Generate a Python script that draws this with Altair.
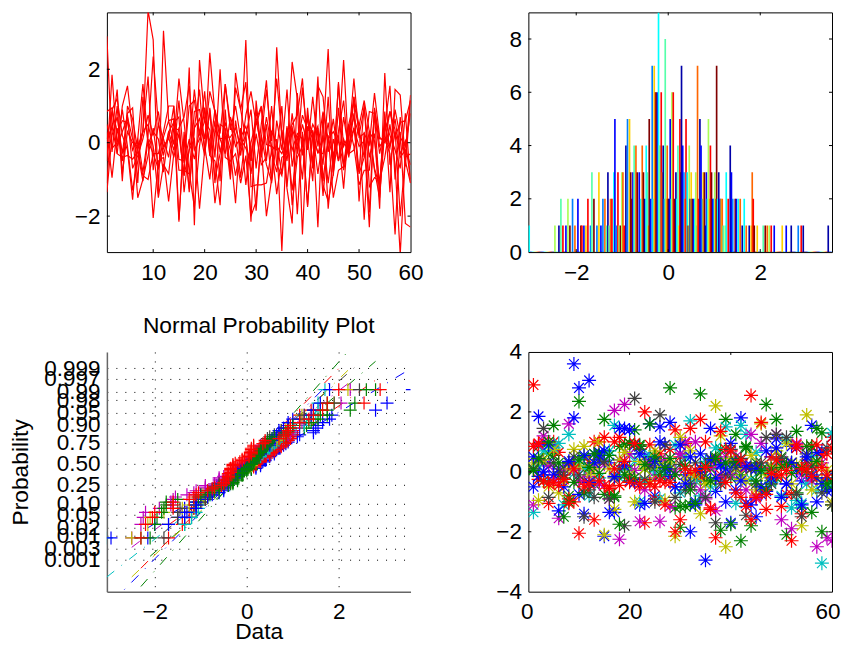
import altair as alt
import pandas as pd
from statistics import NormalDist

FONT = "Liberation Sans"
W, H = 304, 240

s0 = [-.5,1.85,-.1,.3,.7,.1,-.2,.3,3.6,2.8,-1.4,3.05,.6,.65,-2.15,.3,-1.35,.4,1.45,-.3,.9,-1.1,.5,.4,-.8,1.5,.9,1.65,-.5,.6,-.1,-2.0,-1.0,.6,-.2,1.45,-.65,.2,-1.0,.95,-.6,1.8,-1.05,.2,-1.5,-.75,-.65,.5,1.1,.35,-.4,.85,.8,-.3,.4,1.55,-1.0,.7,-.65,1.15]
s1 = [.1,.85,.3,.6,.55,-.2,.1,-.8,.2,2.35,.5,.1,-.4,.6,-.75,-.75,-.85,.85,.9,.1,1.4,.85,.1,.15,.15,.4,-.1,2.8,-1.2,-1.15,-1.15,-1.1,-.2,-.1,-.3,.1,.5,.75,1.75,-.2,1.25,-.1,.85,.1,.3,0,2.25,-.3,-.2,.5,-2.1,.3,-.7,-1.2,.85,-1.35,1.45,1.3,-.5,-1.1]
s2 = [2.9,-.25,1.0,-1.05,1.0,.65,-.2,-.9,-1.0,-.3,-.3,.3,1.0,1.0,-.45,-.5,1.0,1.15,.2,.95,-.35,-.5,-1.7,.9,-.9,.6,-.35,.75,1.4,.5,.95,-.05,-.1,-.2,1.0,-1.2,.4,-.1,.75,.35,.3,-.85,.15,2.55,-.8,.2,-1.25,.5,-.1,-1.15,-.75,-.75,.8,-1.4,.3,.85,.15,.55,.6,1.15]
s3 = [-1.35,.2,.7,-.3,.8,.95,-1.1,1.25,-.05,.3,.1,-.8,.3,-.2,.4,.7,1.55,-.2,.1,.6,.35,-1.0,-.3,.55,0,-.9,-.1,.2,.9,-.7,.5,1.7,-.3,-.8,.35,-.5,.8,-.3,1.5,.1,-1.05,1.55,1.25,-.25,.65,-.5,.1,-.35,.4,-.8,1.05,-1.2,-.95,-1.05,-.4,.5,-.6,-3.05,-.35,1.3]
s4 = [-1.1,.9,1.2,.2,-.2,-1.55,.1,1.6,.05,-.3,-.7,-.15,.15,-.4,.25,-.9,2.05,-2.25,2.25,.6,.05,-1.65,-.6,.3,-.2,-1.65,.4,-1.15,0,.6,1.0,-.5,1.0,-.6,-.9,.15,-1.3,-.2,.5,-.05,.5,.2,-.6,1.25,-.9,.95,-.6,.15,1.25,-1.6,.3,-1.9,.95,-.1,.1,-.3,-2.5,.3,-2.2,-2.3]
s5 = [.3,-.95,.4,-.5,.75,-.7,-.35,.1,.75,.2,.85,-.1,.1,1.0,-2.1,.1,-1.25,.4,.65,-.1,-1.0,.35,.1,-.3,.7,.2,-.95,.3,-2.15,1.15,-.25,.7,-.1,-1.4,-.4,-.3,2.2,1.2,-2.5,.45,.1,-.25,-.3,.55,-.6,1.6,-.1,.2,.7,.2,.95,-.4,.25,-1.8,1.9,-.6,.3,-.3,.05,-1.0]
s6 = [.1,.4,1.45,-.85,.3,0,-.1,.3,.5,-.1,-1.5,-.6,-.85,.4,.35,-.9,-.2,.1,-1.8,-.2,2.45,.75,-.25,.2,-1.0,1.9,.9,.1,-.85,.25,-.6,-.4,.3,0,-.85,.45,-1.7,-.4,-.1,.75,.15,.45,-1.45,.1,-.4,.3,1.15,-.4,1.25,.45,1.15,.3,-.75,-1.5,.6,.2,-.2,-.7,.8,-1.1]
s7 = [.5,-.15,0,.9,-.1,-1.3,-.5,.35,1.8,-.75,.55,-.35,.3,.55,.7,-1.35,-.15,1.45,.2,1.4,-.35,.6,-1.05,1.6,.35,1.0,.1,-.15,-.5,.9,-.4,.5,-1.1,.1,-2.95,.4,-.2,.25,.1,-1.7,.3,-.3,.2,-1.1,.1,-.5,.7,-.2,.8,-.85,-.4,.3,.05,-1.1,.5,-.1,.65,-.4,-.2,-.6]
s8 = [.05,.45,-.3,1.0,1.55,.3,-1.5,-1.0,-.35,.4,-.7,.15,.6,-.05,1.75,.55,-.8,-1.75,-.1,.95,-.2,.9,.25,1.6,.5,-.1,.15,.45,-.1,-1.85,.2,-.6,-1.05,2.6,.2,-.3,.45,-1.95,.3,-1.75,.35,-2.3,.8,-1.8,-.3,.05,-.6,.1,1.75,.15,.25,-.05,1.35,.15,0,.85,.35,-2.0,-.4,-.3]
s9 = [.85,.95,-.3,-.4,-.35,-.45,-.25,-1.05,.1,-2.05,-.5,-.4,-1.6,-.3,1.15,-.55,.1,-.45,.35,-.35,.95,-.4,2.0,-.4,-.5,-.3,-1.1,-.35,-2.0,-1.6,.1,1.45,.05,1.75,.15,-1.25,-2.2,1.35,-.35,.7,-.7,.4,-1.15,-1.6,-.85,1.65,-.75,-.05,.4,-.1,.05,-2.3,.9,.1,.1,-.15,.9,.15,-.1,.8]
series = [s0, s1, s2, s3, s4, s5, s6, s7, s8, s9]

line_colors = ["#0000ff","#008000","#ff0000","#00bfbf","#bf00bf","#bfbf00","#404040","#0000ff","#008000","#ff0000"]
jet_colors = ["#0000a8","#0000ff","#0080ff","#00ffff","#55ffaa","#aaff55","#ffd000","#ff6600","#ff0000","#800000"]
names = [f"s{i}" for i in range(10)]

# histogram bars: position, count, series
hist_x = [-3.022,-2.463,-2.376,-2.333,-2.289,-2.224,-2.180,-2.137,-2.080,-2.028,-1.963,-1.898,-1.876,-1.833,-1.789,-1.746,-1.689,-1.659,-1.615,-1.550,-1.507,-1.463,-1.420,-1.376,-1.341,-1.311,-1.285,-1.254,-1.224,-1.180,-1.159,-1.130,-1.093,-1.065,-1.037,-1.007,-.985,-.957,-.920,-.885,-.841,-.815,-.789,-.767,-.741,-.702,-.674,-.630,-.598,-.565,-.539,-.511,-.478,-.452,-.430,-.413,-.383,-.348,-.326,-.304,-.283,-.263,-.233,-.211,-.189,-.174,-.152,-.130,-.109,-.087,-.065,-.043,-.022,0,.022,.043,.065,.080,.109,.137,.167,.189,.211,.235,.254,.272,.289,.315,.341,.365,.387,.413,.435,.457,.478,.500,.522,.550,.576,.598,.620,.637,.659,.689,.713,.739,.761,.787,.809,.830,.852,.874,.896,.917,.941,.967,.989,1.011,1.033,1.052,1.074,1.098,1.130,1.152,1.174,1.196,1.239,1.261,1.304,1.348,1.374,1.402,1.457,1.483,1.522,1.565,1.609,1.652,1.696,1.761,1.804,1.826,1.848,1.870,1.935,2.065,2.109,2.152,2.196,2.239,2.304,2.478,2.565,2.674,2.826,2.891,2.935,3.478]
hist_n = [1,1,1,2,1,1,2,1,2,1,2,1,1,1,1,2,1,3,2,1,3,1,2,2,1,3,1,2,2,3,5,1,3,1,1,3,3,1,4,5,5,3,2,3,4,4,3,3,2,4,3,2,4,3,1,5,2,7,2,7,6,6,6,9,4,4,6,3,4,2,8,2,4,2,2,5,2,6,6,2,3,2,4,1,5,3,7,4,3,2,5,3,1,4,2,3,2,2,2,3,1,7,2,5,4,2,3,3,1,3,2,5,2,4,3,2,2,3,2,7,2,3,2,2,2,1,1,3,2,4,3,2,2,2,2,2,1,2,1,1,1,3,2,1,1,1,1,1,1,1,1,1,1,1,1,1,1,1]
hist_s = [3,5,0,4,8,1,5,9,2,7,1,9,8,1,6,8,2,4,9,2,6,1,2,7,4,0,4,7,8,3,1,2,8,5,9,5,7,8,0,2,6,9,9,1,4,7,9,1,3,7,9,0,3,4,6,9,1,2,3,6,7,9,1,3,5,4,8,7,0,2,4,6,7,9,0,1,3,5,8,9,0,3,4,6,8,9,0,1,2,7,8,3,9,5,0,6,9,1,3,5,4,7,8,0,1,2,6,9,0,1,3,5,6,8,9,1,2,5,7,9,3,0,1,6,7,4,5,3,8,0,1,2,9,1,3,7,0,3,7,0,6,7,8,9,6,4,9,7,5,8,1,6,1,0,2,8,0,0]

prob_labels = ["0.001","0.003","0.01","0.02","0.05","0.10","0.25","0.50","0.75","0.90","0.95","0.98","0.99","0.997","0.999"]
prob_values = [float(p) for p in prob_labels]

norm = NormalDist()
prob_z = [round(norm.inv_cdf(p), 4) for p in prob_values]
label_expr = "".join(f"abs(datum.value-({z}))<0.001?'{l}':" for z, l in zip(prob_z, prob_labels)) + "''"

rows = [{"s": names[i], "x": k + 1, "y": v} for i, col in enumerate(series) for k, v in enumerate(col)]
df = pd.DataFrame(rows)

# normal probability table and reference lines
pp, ref = [], []
for i, col in enumerate(series):
    ordered = sorted(col)
    n = len(ordered)
    for j, v in enumerate(ordered):
        pp.append({"s": names[i], "x": v, "z": norm.inv_cdf((j + 0.5) / n)})
    q1, q3 = ordered[n // 4], ordered[3 * n // 4]
    z1, z3 = norm.inv_cdf(.25), norm.inv_cdf(.75)
    slope = (z3 - z1) / (q3 - q1)
    for v in (ordered[0], ordered[-1]):
        ref.append({"s": names[i], "x": v, "z": z1 + slope * (v - q1)})
pp, ref = pd.DataFrame(pp), pd.DataFrame(ref)

BW = 0.018
hist = pd.DataFrame({"x": hist_x, "n": hist_n, "s": [names[i] for i in hist_s]})
hist["x0"] = hist.x - BW
hist["x1"] = hist.x + BW
base_x = [-3.04 + 0.0261 * k for k in range(253)]
base = pd.DataFrame({"x0": base_x, "x1": [v + 0.0261 for v in base_x], "s": [names[k % 10] for k in range(253)], "n": [0] * 253})


def ticks(xt, yt):
    out = []
    tx = pd.DataFrame({"t": xt})
    ty = pd.DataFrame({"t": yt})
    for a, b in ((0, 3), (H - 3, H)):
        out.append(alt.Chart(tx).mark_rule(color="black", strokeWidth=1).encode(x=alt.X("t:Q"), y=alt.value(a), y2=alt.value(b)))
    for a, b in ((0, 3), (W - 3, W)):
        out.append(alt.Chart(ty).mark_rule(color="black", strokeWidth=1).encode(y=alt.Y("t:Q"), x=alt.value(a), x2=alt.value(b)))
    return out


def ax(vals, pad, flush=0):
    if flush:
        return alt.Axis(values=vals, title=None, tickSize=0, domain=False, grid=False, format="d", tickCount=50,
                        labelPadding=pad, labelFlush=True, labelFlushOffset=flush)
    return alt.Axis(values=vals, title=None, tickSize=0, domain=False, grid=False, format="d", tickCount=50,
                    labelPadding=pad, labelFlush=False)


frame = alt.ViewBackground(stroke="black", strokeWidth=1)

xs1 = alt.Scale(domain=[1, 60], nice=False, zero=False)
ys1 = alt.Scale(domain=[-2.98, 3.55], nice=False, zero=False)
lines = alt.Chart(df).mark_line(color="#ff0000", strokeWidth=1.2, clip=True).encode(
    x=alt.X("x:Q", scale=xs1, axis=ax([10, 20, 30, 40, 50, 60], 9)),
    y=alt.Y("y:Q", scale=ys1, axis=ax([-2, 0, 2], 7)),
    detail="s:N",
)
p1 = alt.layer(lines, *ticks([10, 20, 30, 40, 50], [-2, 0, 2])).properties(width=W, height=H, view=frame)

jet = alt.Color("s:N", scale=alt.Scale(domain=names, range=jet_colors), legend=None)
xs2 = alt.Scale(domain=[-3.04, 3.56], nice=False, zero=False)
ys2 = alt.Scale(domain=[0, 9], nice=False, zero=True)
base_mark = alt.Chart(base).mark_rule(strokeWidth=1, clip=True).encode(
    x=alt.X("x0:Q", scale=xs2, axis=ax([-2, 0, 2], 9)), x2="x1:Q",
    y=alt.Y("n:Q", scale=ys2, axis=ax([0, 2, 4, 6, 8], 7)), color=jet,
)
bars = alt.Chart(hist).mark_rect(clip=True).encode(
    x=alt.X("x0:Q", scale=xs2), x2="x1:Q", y=alt.Y("n:Q", scale=ys2), y2=alt.Y2(datum=0), color=jet,
)
p2 = alt.layer(base_mark, bars, *ticks([-2, 0, 2], [2, 4, 6, 8])).properties(width=W, height=H, view=frame)

cats = alt.Color("s:N", scale=alt.Scale(domain=names, range=line_colors), legend=None)
xs3 = alt.Scale(domain=[-3.04, 3.56], nice=False, zero=False)
ys3 = alt.Scale(domain=[-4.13, 3.61], nice=False, zero=False)
plus = "M-1,0H1M0,-1V1"
xa3 = alt.Axis(values=[-2, 0, 2], title="Data", tickSize=0, domainColor="#666666", domainWidth=1.5, grid=True,
               gridColor="black", gridDash=[1, 8], gridWidth=1, format="d", titleFontWeight="normal", tickCount=50,
               labelPadding=9, titlePadding=-3, labelFlush=False)
ya3 = alt.Axis(values=prob_z, title="Probability", tickSize=0, domainColor="#666666", domainWidth=1.5, grid=True,
               gridColor="black", gridDash=[1, 8], gridWidth=1, labelExpr=label_expr, labelOverlap=False,
               titleFontWeight="normal", tickCount=50, labelPadding=7, titlePadding=11, labelFlush=False)
pts = alt.Chart(pp).mark_point(shape=plus, size=169, strokeWidth=1.2, filled=False, opacity=1, clip=True).encode(
    x=alt.X("x:Q", scale=xs3, axis=xa3), y=alt.Y("z:Q", scale=ys3, axis=ya3), color=cats,
)
refl = alt.Chart(ref).mark_line(strokeWidth=1, strokeDash=[10, 9, 1, 9], clip=True).encode(
    x=alt.X("x:Q", scale=xs3, axis=xa3), y=alt.Y("z:Q", scale=ys3, axis=ya3), color=cats, detail="s:N",
)
p3 = alt.layer(refl, pts).properties(
    width=W, height=H, view=alt.ViewBackground(stroke=None),
    title=alt.TitleParams("Normal Probability Plot", font=FONT, fontSize=22.8, fontWeight="normal", anchor="middle", offset=14),
)

xs4 = alt.Scale(domain=[0, 60], nice=False)
ys4 = alt.Scale(domain=[-4, 4], nice=False, zero=False)
star = "M-1,0H1M0,-1V1M-.7,-.7L.7,.7M-.7,.7L.7,-.7"
stars = alt.Chart(df).mark_point(shape=star, size=196, strokeWidth=1.2, filled=False, opacity=1, clip=True).encode(
    x=alt.X("x:Q", scale=xs4, axis=ax([0, 20, 40, 60], 9, flush=8)),
    y=alt.Y("y:Q", scale=ys4, axis=ax([-4, -2, 0, 2, 4], 7)),
    color=cats,
)
p4 = alt.layer(stars, *ticks([20, 40], [-2, 0, 2])).properties(width=W, height=H, view=frame)

chart = alt.concat(p1, p2, p3, p4, columns=2, spacing={"row": 100, "column": 118}, bounds="flush").properties(
    padding={"left": 1, "top": 3, "right": 0, "bottom": -1}
).resolve_scale(x="independent", y="independent", color="independent").configure_axis(
    labelFont=FONT, labelFontSize=22.5, labelColor="black", titleFont=FONT, titleFontSize=22.8, titleColor="black",
    labelBound=False,
).configure_view(stroke=None)

chart.save("out.html", embed_options={"renderer": "svg", "actions": False})
